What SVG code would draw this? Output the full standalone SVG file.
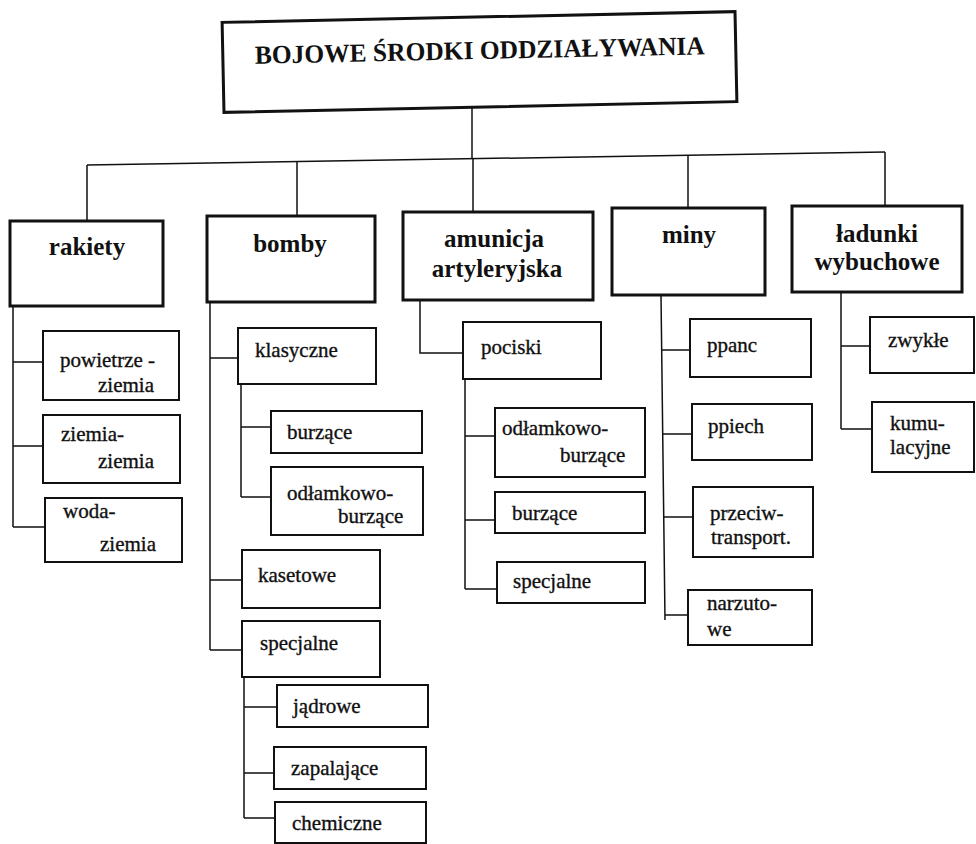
<svg xmlns="http://www.w3.org/2000/svg" width="976" height="844" viewBox="0 0 976 844">
<style>
.bg{fill:#fff}
.main{fill:#fff;stroke:#111;stroke-width:3}
.sub{fill:#fff;stroke:#111;stroke-width:2}
.conn{fill:none;stroke:#111;stroke-width:1.5}
text{font-family:"Liberation Serif","Times New Roman","DejaVu Serif",serif;fill:#111}
.tt{font-size:26px;font-weight:bold}
.mt{font-size:25px;font-weight:bold;text-anchor:middle}
.st{font-size:21px;stroke:#111;stroke-width:0.35}
</style>
<rect class="bg" x="0" y="0" width="976" height="844"/>
<g id="connectors">
<path class="conn" d="M87,165 L885,152"/>
<path class="conn" d="M472,107 V159"/>
<path class="conn" d="M87,165 V221 M297,161.6 V216 M473,158.7 V212 M688,155.2 V208 M885,152 V206"/>
<path class="conn" d="M13,306 V527 M13,362 H43 M13,446 H43 M13,527 H45"/>
<path class="conn" d="M210,302 V650 M210,358 H238 M210,580 H242 M210,650 H242"/>
<path class="conn" d="M241,384 V497 M241,427 H271 M241,497 H271"/>
<path class="conn" d="M244,677 V818 M244,707 H277 M244,773 H274 M244,818 H275"/>
<path class="conn" d="M420,300 V353 H463"/>
<path class="conn" d="M465,379 V589 M465,436 H495 M465,520 H495 M465,589 H497"/>
<path class="conn" d="M661,295 L665,620 M661.7,350 H690 M662.7,434 H692 M663.7,517 H693 M665,615 H688"/>
<path class="conn" d="M841,292 V429 M841,346 H870 M841,429 H872"/>
</g>
<g id="title" transform="rotate(-1.2 480 62)">
<rect class="main" x="223" y="17" width="513" height="90"/>
<text class="tt" x="255" y="59" textLength="450" lengthAdjust="spacingAndGlyphs">BOJOWE ŚRODKI ODDZIAŁYWANIA</text>
</g>
<g id="rakiety"><rect class="main" x="10" y="221" width="153" height="85"/><text class="mt" x="87" y="255">rakiety</text></g>
<g id="bomby"><rect class="main" x="207" y="216" width="168" height="86"/><text class="mt" x="290" y="252">bomby</text></g>
<g id="amunicja"><rect class="main" x="403" y="212" width="190" height="88"/><text class="mt" x="494" y="247">amunicja</text><text class="mt" x="497" y="277">artyleryjska</text></g>
<g id="miny"><rect class="main" x="612" y="208" width="153" height="87"/><text class="mt" x="689" y="243">miny</text></g>
<g id="ladunki"><rect class="main" x="792" y="206" width="170" height="86"/><text class="mt" x="877" y="242">ładunki</text><text class="mt" x="877" y="270">wybuchowe</text></g>
<g id="powietrze-ziemia"><rect class="sub" x="43" y="331" width="136" height="69"/><text class="st" x="60" y="367">powietrze -</text><text class="st" x="98" y="392">ziemia</text></g>
<g id="ziemia-ziemia"><rect class="sub" x="43" y="415" width="137" height="68"/><text class="st" x="61" y="441">ziemia-</text><text class="st" x="98" y="468">ziemia</text></g>
<g id="woda-ziemia"><rect class="sub" x="45" y="498" width="137" height="64"/><text class="st" x="63" y="518">woda-</text><text class="st" x="100" y="551">ziemia</text></g>
<g id="klasyczne"><rect class="sub" x="238" y="328" width="138" height="56"/><text class="st" x="255" y="357">klasyczne</text></g>
<g id="bomby-burzace"><rect class="sub" x="271" y="411" width="151" height="42"/><text class="st" x="287" y="439">burzące</text></g>
<g id="bomby-odlamkowo"><rect class="sub" x="271" y="467" width="152" height="68"/><text class="st" x="287" y="500">odłamkowo-</text><text class="st" x="338" y="523">burzące</text></g>
<g id="kasetowe"><rect class="sub" x="242" y="550" width="138" height="58"/><text class="st" x="258" y="582">kasetowe</text></g>
<g id="bomby-specjalne"><rect class="sub" x="242" y="621" width="138" height="56"/><text class="st" x="260" y="650">specjalne</text></g>
<g id="jadrowe"><rect class="sub" x="277" y="685" width="151" height="42"/><text class="st" x="293" y="713">jądrowe</text></g>
<g id="zapalajace"><rect class="sub" x="274" y="747" width="152" height="42"/><text class="st" x="291" y="775">zapalające</text></g>
<g id="chemiczne"><rect class="sub" x="275" y="802" width="151" height="41"/><text class="st" x="292" y="830">chemiczne</text></g>
<g id="pociski"><rect class="sub" x="463" y="322" width="138" height="57"/><text class="st" x="481" y="354">pociski</text></g>
<g id="pociski-odlamkowo"><rect class="sub" x="495" y="408" width="150" height="69"/><text class="st" x="502" y="435">odłamkowo-</text><text class="st" x="560" y="462">burzące</text></g>
<g id="pociski-burzace"><rect class="sub" x="495" y="492" width="150" height="41"/><text class="st" x="512" y="520">burzące</text></g>
<g id="pociski-specjalne"><rect class="sub" x="497" y="562" width="148" height="41"/><text class="st" x="513" y="588">specjalne</text></g>
<g id="ppanc"><rect class="sub" x="690" y="319" width="121" height="58"/><text class="st" x="707" y="352">ppanc</text></g>
<g id="ppiech"><rect class="sub" x="692" y="404" width="120" height="56"/><text class="st" x="708" y="433">ppiech</text></g>
<g id="przeciwtransport"><rect class="sub" x="693" y="487" width="120" height="70"/><text class="st" x="710" y="520">przeciw-</text><text class="st" x="711" y="544">transport.</text></g>
<g id="narzutowe"><rect class="sub" x="688" y="590" width="124" height="55"/><text class="st" x="707" y="610">narzuto-</text><text class="st" x="707" y="636">we</text></g>
<g id="zwykle"><rect class="sub" x="870" y="317" width="104" height="56"/><text class="st" x="888" y="347">zwykłe</text></g>
<g id="kumulacyjne"><rect class="sub" x="872" y="402" width="102" height="70"/><text class="st" x="890" y="430">kumu-</text><text class="st" x="890" y="454">lacyjne</text></g>
</svg>
